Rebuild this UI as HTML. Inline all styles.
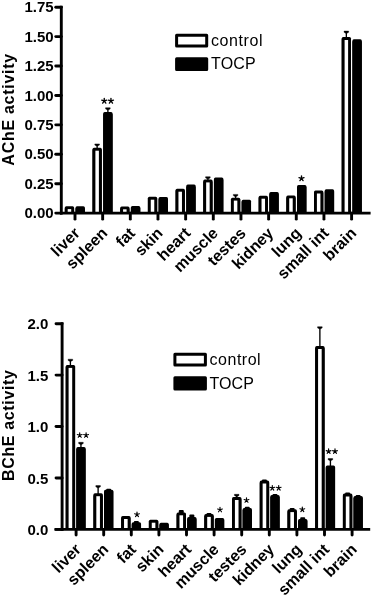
<!DOCTYPE html>
<html><head><meta charset="utf-8"><style>
html,body{margin:0;padding:0;background:#fff;width:373px;height:596px;overflow:hidden}
svg{display:block;will-change:transform}
text{font-family:"Liberation Sans", sans-serif;fill:#000}
</style></head><body>
<svg width="373" height="596" viewBox="0 0 373 596"><rect x="64.80" y="206.20" width="9.30" height="6.90" fill="#000" rx="1.5"/>
<rect x="64.80" y="208.20" width="9.30" height="4.90" fill="#000"/>
<rect x="67.70" y="209.10" width="3.50" height="4.00" fill="#fff"/>
<rect x="75.50" y="206.20" width="9.40" height="6.90" fill="#000" rx="1.5"/>
<rect x="75.50" y="208.20" width="9.40" height="4.90" fill="#000"/>
<rect x="92.49" y="147.80" width="9.30" height="65.30" fill="#000" rx="1.5"/>
<rect x="92.49" y="149.80" width="9.30" height="63.30" fill="#000"/>
<rect x="95.39" y="150.70" width="3.50" height="62.40" fill="#fff"/>
<rect x="103.19" y="112.10" width="9.40" height="101.00" fill="#000" rx="1.5"/>
<rect x="103.19" y="114.10" width="9.40" height="99.00" fill="#000"/>
<rect x="120.18" y="206.40" width="9.30" height="6.70" fill="#000" rx="1.5"/>
<rect x="120.18" y="208.40" width="9.30" height="4.70" fill="#000"/>
<rect x="123.08" y="209.30" width="3.50" height="3.80" fill="#fff"/>
<rect x="130.88" y="206.00" width="9.40" height="7.10" fill="#000" rx="1.5"/>
<rect x="130.88" y="208.00" width="9.40" height="5.10" fill="#000"/>
<rect x="147.87" y="196.80" width="9.30" height="16.30" fill="#000" rx="1.5"/>
<rect x="147.87" y="198.80" width="9.30" height="14.30" fill="#000"/>
<rect x="150.77" y="199.70" width="3.50" height="13.40" fill="#fff"/>
<rect x="158.57" y="197.10" width="9.40" height="16.00" fill="#000" rx="1.5"/>
<rect x="158.57" y="199.10" width="9.40" height="14.00" fill="#000"/>
<rect x="175.56" y="188.80" width="9.30" height="24.30" fill="#000" rx="1.5"/>
<rect x="175.56" y="190.80" width="9.30" height="22.30" fill="#000"/>
<rect x="178.46" y="191.70" width="3.50" height="21.40" fill="#fff"/>
<rect x="186.26" y="184.60" width="9.40" height="28.50" fill="#000" rx="1.5"/>
<rect x="186.26" y="186.60" width="9.40" height="26.50" fill="#000"/>
<rect x="203.25" y="179.50" width="9.30" height="33.60" fill="#000" rx="1.5"/>
<rect x="203.25" y="181.50" width="9.30" height="31.60" fill="#000"/>
<rect x="206.15" y="182.40" width="3.50" height="30.70" fill="#fff"/>
<rect x="213.95" y="177.50" width="9.40" height="35.60" fill="#000" rx="1.5"/>
<rect x="213.95" y="179.50" width="9.40" height="33.60" fill="#000"/>
<rect x="230.94" y="197.70" width="9.30" height="15.40" fill="#000" rx="1.5"/>
<rect x="230.94" y="199.70" width="9.30" height="13.40" fill="#000"/>
<rect x="233.84" y="200.60" width="3.50" height="12.50" fill="#fff"/>
<rect x="241.64" y="199.80" width="9.40" height="13.30" fill="#000" rx="1.5"/>
<rect x="241.64" y="201.80" width="9.40" height="11.30" fill="#000"/>
<rect x="258.63" y="195.80" width="9.30" height="17.30" fill="#000" rx="1.5"/>
<rect x="258.63" y="197.80" width="9.30" height="15.30" fill="#000"/>
<rect x="261.53" y="198.70" width="3.50" height="14.40" fill="#fff"/>
<rect x="269.33" y="192.10" width="9.40" height="21.00" fill="#000" rx="1.5"/>
<rect x="269.33" y="194.10" width="9.40" height="19.00" fill="#000"/>
<rect x="286.32" y="195.40" width="9.30" height="17.70" fill="#000" rx="1.5"/>
<rect x="286.32" y="197.40" width="9.30" height="15.70" fill="#000"/>
<rect x="289.22" y="198.30" width="3.50" height="14.80" fill="#fff"/>
<rect x="297.02" y="185.00" width="9.40" height="28.10" fill="#000" rx="1.5"/>
<rect x="297.02" y="187.00" width="9.40" height="26.10" fill="#000"/>
<rect x="314.01" y="190.60" width="9.30" height="22.50" fill="#000" rx="1.5"/>
<rect x="314.01" y="192.60" width="9.30" height="20.50" fill="#000"/>
<rect x="316.91" y="193.50" width="3.50" height="19.60" fill="#fff"/>
<rect x="324.71" y="189.30" width="9.40" height="23.80" fill="#000" rx="1.5"/>
<rect x="324.71" y="191.30" width="9.40" height="21.80" fill="#000"/>
<rect x="341.70" y="37.10" width="9.30" height="176.00" fill="#000" rx="1.5"/>
<rect x="341.70" y="39.10" width="9.30" height="174.00" fill="#000"/>
<rect x="344.60" y="40.00" width="3.50" height="173.10" fill="#fff"/>
<rect x="352.40" y="39.30" width="9.40" height="173.80" fill="#000" rx="1.5"/>
<rect x="352.40" y="41.30" width="9.40" height="171.80" fill="#000"/>
<line x1="97.14" y1="144.80" x2="97.14" y2="148.80" stroke="#000" stroke-width="1.35" stroke-linecap="butt"/>
<path d="M94.84 143.90H99.44V145.10L97.84 146.00H96.44L94.84 145.10Z" fill="#000" stroke="#000" stroke-width="0.4" stroke-linejoin="round"/>
<line x1="107.89" y1="108.60" x2="107.89" y2="113.10" stroke="#000" stroke-width="1.35" stroke-linecap="butt"/>
<path d="M105.59 107.70H110.19V108.90L108.59 109.80H107.19L105.59 108.90Z" fill="#000" stroke="#000" stroke-width="0.4" stroke-linejoin="round"/>
<line x1="207.90" y1="177.60" x2="207.90" y2="180.50" stroke="#000" stroke-width="1.35" stroke-linecap="butt"/>
<path d="M205.60 176.70H210.20V177.90L208.60 178.80H207.20L205.60 177.90Z" fill="#000" stroke="#000" stroke-width="0.4" stroke-linejoin="round"/>
<line x1="235.59" y1="195.30" x2="235.59" y2="198.70" stroke="#000" stroke-width="1.35" stroke-linecap="butt"/>
<path d="M233.29 194.40H237.89V195.60L236.29 196.50H234.89L233.29 195.60Z" fill="#000" stroke="#000" stroke-width="0.4" stroke-linejoin="round"/>
<line x1="346.35" y1="32.00" x2="346.35" y2="38.10" stroke="#000" stroke-width="1.35" stroke-linecap="butt"/>
<path d="M344.05 31.10H348.65V32.30L347.05 33.20H345.65L344.05 32.30Z" fill="#000" stroke="#000" stroke-width="0.4" stroke-linejoin="round"/>
<line x1="61.30" y1="5.75" x2="61.30" y2="214.55" stroke="#000" stroke-width="2.9" stroke-linecap="butt"/>
<line x1="60.00" y1="213.10" x2="370.60" y2="213.10" stroke="#000" stroke-width="2.9" stroke-linecap="butt"/>
<line x1="55.75" y1="213.10" x2="61.30" y2="213.10" stroke="#000" stroke-width="2.9" stroke-linecap="round"/>
<text x="53.60" y="218.20" font-size="15" font-weight="bold" text-anchor="end">0.00</text>
<line x1="55.75" y1="183.69" x2="61.30" y2="183.69" stroke="#000" stroke-width="2.9" stroke-linecap="round"/>
<text x="53.60" y="188.79" font-size="15" font-weight="bold" text-anchor="end">0.25</text>
<line x1="55.75" y1="154.27" x2="61.30" y2="154.27" stroke="#000" stroke-width="2.9" stroke-linecap="round"/>
<text x="53.60" y="159.37" font-size="15" font-weight="bold" text-anchor="end">0.50</text>
<line x1="55.75" y1="124.86" x2="61.30" y2="124.86" stroke="#000" stroke-width="2.9" stroke-linecap="round"/>
<text x="53.60" y="129.96" font-size="15" font-weight="bold" text-anchor="end">0.75</text>
<line x1="55.75" y1="95.44" x2="61.30" y2="95.44" stroke="#000" stroke-width="2.9" stroke-linecap="round"/>
<text x="53.60" y="100.54" font-size="15" font-weight="bold" text-anchor="end">1.00</text>
<line x1="55.75" y1="66.03" x2="61.30" y2="66.03" stroke="#000" stroke-width="2.9" stroke-linecap="round"/>
<text x="53.60" y="71.13" font-size="15" font-weight="bold" text-anchor="end">1.25</text>
<line x1="55.75" y1="36.61" x2="61.30" y2="36.61" stroke="#000" stroke-width="2.9" stroke-linecap="round"/>
<text x="53.60" y="41.71" font-size="15" font-weight="bold" text-anchor="end">1.50</text>
<line x1="55.75" y1="7.20" x2="61.30" y2="7.20" stroke="#000" stroke-width="2.9" stroke-linecap="round"/>
<text x="53.60" y="12.30" font-size="15" font-weight="bold" text-anchor="end">1.75</text>
<line x1="75.00" y1="213.10" x2="75.00" y2="219.15" stroke="#000" stroke-width="2.9" stroke-linecap="round"/>
<line x1="102.66" y1="213.10" x2="102.66" y2="219.15" stroke="#000" stroke-width="2.9" stroke-linecap="round"/>
<line x1="130.32" y1="213.10" x2="130.32" y2="219.15" stroke="#000" stroke-width="2.9" stroke-linecap="round"/>
<line x1="157.98" y1="213.10" x2="157.98" y2="219.15" stroke="#000" stroke-width="2.9" stroke-linecap="round"/>
<line x1="185.64" y1="213.10" x2="185.64" y2="219.15" stroke="#000" stroke-width="2.9" stroke-linecap="round"/>
<line x1="213.30" y1="213.10" x2="213.30" y2="219.15" stroke="#000" stroke-width="2.9" stroke-linecap="round"/>
<line x1="240.96" y1="213.10" x2="240.96" y2="219.15" stroke="#000" stroke-width="2.9" stroke-linecap="round"/>
<line x1="268.62" y1="213.10" x2="268.62" y2="219.15" stroke="#000" stroke-width="2.9" stroke-linecap="round"/>
<line x1="296.28" y1="213.10" x2="296.28" y2="219.15" stroke="#000" stroke-width="2.9" stroke-linecap="round"/>
<line x1="323.94" y1="213.10" x2="323.94" y2="219.15" stroke="#000" stroke-width="2.9" stroke-linecap="round"/>
<line x1="351.60" y1="213.10" x2="351.60" y2="219.15" stroke="#000" stroke-width="2.9" stroke-linecap="round"/>
<path d="M104.25 100.95L104.25 98.30M104.25 100.95L106.77 100.13M104.25 100.95L105.81 103.09M104.25 100.95L102.69 103.09M104.25 100.95L101.73 100.13" stroke="#000" stroke-width="1.35" stroke-linecap="round" fill="none"/>
<circle cx="104.25" cy="100.95" r="0.74" fill="#000"/>
<path d="M110.95 100.95L110.95 98.30M110.95 100.95L113.47 100.13M110.95 100.95L112.51 103.09M110.95 100.95L109.39 103.09M110.95 100.95L108.43 100.13" stroke="#000" stroke-width="1.35" stroke-linecap="round" fill="none"/>
<circle cx="110.95" cy="100.95" r="0.74" fill="#000"/>
<path d="M301.50 178.45L301.50 175.80M301.50 178.45L304.02 177.63M301.50 178.45L303.06 180.59M301.50 178.45L299.94 180.59M301.50 178.45L298.98 177.63" stroke="#000" stroke-width="1.35" stroke-linecap="round" fill="none"/>
<circle cx="301.50" cy="178.45" r="0.74" fill="#000"/>
<text x="80.80" y="234.10" font-size="16" font-weight="bold" text-anchor="end" transform="rotate(-45 80.80 234.10)">liver</text>
<text x="108.46" y="234.10" font-size="16" font-weight="bold" text-anchor="end" transform="rotate(-45 108.46 234.10)">spleen</text>
<text x="136.12" y="234.10" font-size="16" font-weight="bold" text-anchor="end" transform="rotate(-45 136.12 234.10)">fat</text>
<text x="163.78" y="234.10" font-size="16" font-weight="bold" text-anchor="end" transform="rotate(-45 163.78 234.10)">skin</text>
<text x="191.44" y="234.10" font-size="16" font-weight="bold" text-anchor="end" transform="rotate(-45 191.44 234.10)">heart</text>
<text x="219.10" y="234.10" font-size="16" font-weight="bold" text-anchor="end" transform="rotate(-45 219.10 234.10)">muscle</text>
<text x="246.76" y="234.10" font-size="16" font-weight="bold" text-anchor="end" transform="rotate(-45 246.76 234.10)">testes</text>
<text x="274.42" y="234.10" font-size="16" font-weight="bold" text-anchor="end" transform="rotate(-45 274.42 234.10)">kidney</text>
<text x="302.08" y="234.10" font-size="16" font-weight="bold" text-anchor="end" transform="rotate(-45 302.08 234.10)">lung</text>
<text x="329.74" y="234.10" font-size="16" font-weight="bold" text-anchor="end" transform="rotate(-45 329.74 234.10)">small int</text>
<text x="357.40" y="234.10" font-size="16" font-weight="bold" text-anchor="end" transform="rotate(-45 357.40 234.10)">brain</text>
<text x="13.90" y="109.75" font-size="16" font-weight="bold" text-anchor="middle" transform="rotate(-90 13.90 109.75)" textLength="111.8" lengthAdjust="spacing">AChE activity</text>
<rect x="176.60" y="35.20" width="30.10" height="10.70" fill="#fff" stroke="#000" stroke-width="3.0" stroke-linejoin="round"/>
<rect x="176.60" y="58.70" width="30.10" height="10.70" fill="#000" stroke="#000" stroke-width="3.0" stroke-linejoin="round"/>
<text x="211.00" y="45.90" font-size="16" font-weight="normal" text-anchor="start" textLength="51.6" lengthAdjust="spacing">control</text>
<text x="211.00" y="69.40" font-size="16" font-weight="normal" text-anchor="start" textLength="44.6" lengthAdjust="spacing">TOCP</text>
<rect x="65.70" y="365.00" width="9.40" height="164.40" fill="#000" rx="1.5"/>
<rect x="65.70" y="367.00" width="9.40" height="162.40" fill="#000"/>
<rect x="68.60" y="367.90" width="3.60" height="161.50" fill="#fff"/>
<rect x="76.30" y="447.00" width="9.30" height="82.40" fill="#000" rx="1.5"/>
<rect x="76.30" y="449.00" width="9.30" height="80.40" fill="#000"/>
<rect x="93.42" y="493.30" width="9.40" height="36.10" fill="#000" rx="1.5"/>
<rect x="93.42" y="495.30" width="9.40" height="34.10" fill="#000"/>
<rect x="96.32" y="496.20" width="3.60" height="33.20" fill="#fff"/>
<rect x="104.02" y="489.80" width="9.30" height="39.60" fill="#000" rx="1.5"/>
<rect x="104.02" y="491.80" width="9.30" height="37.60" fill="#000"/>
<rect x="121.14" y="516.10" width="9.40" height="13.30" fill="#000" rx="1.5"/>
<rect x="121.14" y="518.10" width="9.40" height="11.30" fill="#000"/>
<rect x="124.04" y="519.00" width="3.60" height="10.40" fill="#fff"/>
<rect x="131.74" y="522.30" width="9.30" height="7.10" fill="#000" rx="1.5"/>
<rect x="131.74" y="524.30" width="9.30" height="5.10" fill="#000"/>
<rect x="148.86" y="519.80" width="9.40" height="9.60" fill="#000" rx="1.5"/>
<rect x="148.86" y="521.80" width="9.40" height="7.60" fill="#000"/>
<rect x="151.76" y="522.70" width="3.60" height="6.70" fill="#fff"/>
<rect x="159.46" y="522.80" width="9.30" height="6.60" fill="#000" rx="1.5"/>
<rect x="159.46" y="524.80" width="9.30" height="4.60" fill="#000"/>
<rect x="176.58" y="512.40" width="9.40" height="17.00" fill="#000" rx="1.5"/>
<rect x="176.58" y="514.40" width="9.40" height="15.00" fill="#000"/>
<rect x="179.48" y="515.30" width="3.60" height="14.10" fill="#fff"/>
<rect x="187.18" y="517.10" width="9.30" height="12.30" fill="#000" rx="1.5"/>
<rect x="187.18" y="519.10" width="9.30" height="10.30" fill="#000"/>
<rect x="204.30" y="514.00" width="9.40" height="15.40" fill="#000" rx="1.5"/>
<rect x="204.30" y="516.00" width="9.40" height="13.40" fill="#000"/>
<rect x="207.20" y="516.90" width="3.60" height="12.50" fill="#fff"/>
<rect x="214.90" y="518.10" width="9.30" height="11.30" fill="#000" rx="1.5"/>
<rect x="214.90" y="520.10" width="9.30" height="9.30" fill="#000"/>
<rect x="232.02" y="497.10" width="9.40" height="32.30" fill="#000" rx="1.5"/>
<rect x="232.02" y="499.10" width="9.40" height="30.30" fill="#000"/>
<rect x="234.92" y="500.00" width="3.60" height="29.40" fill="#fff"/>
<rect x="242.62" y="508.00" width="9.30" height="21.40" fill="#000" rx="1.5"/>
<rect x="242.62" y="510.00" width="9.30" height="19.40" fill="#000"/>
<rect x="259.74" y="480.60" width="9.40" height="48.80" fill="#000" rx="1.5"/>
<rect x="259.74" y="482.60" width="9.40" height="46.80" fill="#000"/>
<rect x="262.64" y="483.50" width="3.60" height="45.90" fill="#fff"/>
<rect x="270.34" y="495.00" width="9.30" height="34.40" fill="#000" rx="1.5"/>
<rect x="270.34" y="497.00" width="9.30" height="32.40" fill="#000"/>
<rect x="287.46" y="509.20" width="9.40" height="20.20" fill="#000" rx="1.5"/>
<rect x="287.46" y="511.20" width="9.40" height="18.20" fill="#000"/>
<rect x="290.36" y="512.10" width="3.60" height="17.30" fill="#fff"/>
<rect x="298.06" y="518.90" width="9.30" height="10.50" fill="#000" rx="1.5"/>
<rect x="298.06" y="520.90" width="9.30" height="8.50" fill="#000"/>
<rect x="315.18" y="346.10" width="9.40" height="183.30" fill="#000" rx="1.5"/>
<rect x="315.18" y="348.10" width="9.40" height="181.30" fill="#000"/>
<rect x="318.08" y="349.00" width="3.60" height="180.40" fill="#fff"/>
<rect x="325.78" y="465.40" width="9.30" height="64.00" fill="#000" rx="1.5"/>
<rect x="325.78" y="467.40" width="9.30" height="62.00" fill="#000"/>
<rect x="342.90" y="493.60" width="9.40" height="35.80" fill="#000" rx="1.5"/>
<rect x="342.90" y="495.60" width="9.40" height="33.80" fill="#000"/>
<rect x="345.80" y="496.50" width="3.60" height="32.90" fill="#fff"/>
<rect x="353.50" y="496.00" width="9.30" height="33.40" fill="#000" rx="1.5"/>
<rect x="353.50" y="498.00" width="9.30" height="31.40" fill="#000"/>
<line x1="70.40" y1="360.10" x2="70.40" y2="366.00" stroke="#000" stroke-width="1.35" stroke-linecap="butt"/>
<path d="M68.10 359.20H72.70V360.40L71.10 361.30H69.70L68.10 360.40Z" fill="#000" stroke="#000" stroke-width="0.4" stroke-linejoin="round"/>
<line x1="80.95" y1="443.20" x2="80.95" y2="448.00" stroke="#000" stroke-width="1.35" stroke-linecap="butt"/>
<path d="M78.65 442.30H83.25V443.50L81.65 444.40H80.25L78.65 443.50Z" fill="#000" stroke="#000" stroke-width="0.4" stroke-linejoin="round"/>
<line x1="98.12" y1="486.50" x2="98.12" y2="494.30" stroke="#000" stroke-width="1.35" stroke-linecap="butt"/>
<path d="M95.82 485.60H100.42V486.80L98.82 487.70H97.42L95.82 486.80Z" fill="#000" stroke="#000" stroke-width="0.4" stroke-linejoin="round"/>
<line x1="108.67" y1="489.80" x2="108.67" y2="490.80" stroke="#000" stroke-width="1.35" stroke-linecap="butt"/>
<rect x="106.17" y="488.80" width="5.00" height="2.00" fill="#000" rx="1.0"/>
<line x1="136.39" y1="521.90" x2="136.39" y2="523.30" stroke="#000" stroke-width="1.35" stroke-linecap="butt"/>
<rect x="133.89" y="520.90" width="5.00" height="2.40" fill="#000" rx="1.0"/>
<line x1="181.28" y1="511.00" x2="181.28" y2="513.40" stroke="#000" stroke-width="1.35" stroke-linecap="butt"/>
<rect x="178.78" y="510.00" width="5.00" height="3.40" fill="#000" rx="1.0"/>
<line x1="191.83" y1="515.40" x2="191.83" y2="518.10" stroke="#000" stroke-width="1.35" stroke-linecap="butt"/>
<rect x="189.33" y="514.40" width="5.00" height="3.70" fill="#000" rx="1.0"/>
<line x1="209.00" y1="514.00" x2="209.00" y2="515.00" stroke="#000" stroke-width="1.35" stroke-linecap="butt"/>
<rect x="206.50" y="513.00" width="5.00" height="2.00" fill="#000" rx="1.0"/>
<line x1="236.72" y1="495.20" x2="236.72" y2="498.10" stroke="#000" stroke-width="1.35" stroke-linecap="butt"/>
<path d="M234.42 494.30H239.02V495.50L237.42 496.40H236.02L234.42 495.50Z" fill="#000" stroke="#000" stroke-width="0.4" stroke-linejoin="round"/>
<line x1="247.27" y1="507.80" x2="247.27" y2="509.00" stroke="#000" stroke-width="1.35" stroke-linecap="butt"/>
<rect x="244.77" y="506.80" width="5.00" height="2.20" fill="#000" rx="1.0"/>
<line x1="264.44" y1="480.60" x2="264.44" y2="481.60" stroke="#000" stroke-width="1.35" stroke-linecap="butt"/>
<rect x="261.94" y="479.60" width="5.00" height="2.00" fill="#000" rx="1.0"/>
<line x1="274.99" y1="495.00" x2="274.99" y2="496.00" stroke="#000" stroke-width="1.35" stroke-linecap="butt"/>
<rect x="272.49" y="494.00" width="5.00" height="2.00" fill="#000" rx="1.0"/>
<line x1="292.16" y1="509.00" x2="292.16" y2="510.20" stroke="#000" stroke-width="1.35" stroke-linecap="butt"/>
<rect x="289.66" y="508.00" width="5.00" height="2.20" fill="#000" rx="1.0"/>
<line x1="302.71" y1="518.30" x2="302.71" y2="519.90" stroke="#000" stroke-width="1.35" stroke-linecap="butt"/>
<rect x="300.21" y="517.30" width="5.00" height="2.60" fill="#000" rx="1.0"/>
<line x1="319.88" y1="327.60" x2="319.88" y2="347.10" stroke="#000" stroke-width="1.35" stroke-linecap="butt"/>
<path d="M317.58 326.70H322.18V327.90L320.58 328.80H319.18L317.58 327.90Z" fill="#000" stroke="#000" stroke-width="0.4" stroke-linejoin="round"/>
<line x1="330.43" y1="459.40" x2="330.43" y2="466.40" stroke="#000" stroke-width="1.35" stroke-linecap="butt"/>
<path d="M328.13 458.50H332.73V459.70L331.13 460.60H329.73L328.13 459.70Z" fill="#000" stroke="#000" stroke-width="0.4" stroke-linejoin="round"/>
<line x1="347.60" y1="493.60" x2="347.60" y2="494.60" stroke="#000" stroke-width="1.35" stroke-linecap="butt"/>
<rect x="345.10" y="492.60" width="5.00" height="2.00" fill="#000" rx="1.0"/>
<line x1="358.15" y1="495.90" x2="358.15" y2="497.00" stroke="#000" stroke-width="1.35" stroke-linecap="butt"/>
<rect x="355.65" y="494.90" width="5.00" height="2.10" fill="#000" rx="1.0"/>
<line x1="62.10" y1="322.25" x2="62.10" y2="530.85" stroke="#000" stroke-width="2.9" stroke-linecap="butt"/>
<line x1="54.50" y1="529.40" x2="370.20" y2="529.40" stroke="#000" stroke-width="2.9" stroke-linecap="butt"/>
<line x1="56.05" y1="529.40" x2="62.10" y2="529.40" stroke="#000" stroke-width="2.9" stroke-linecap="round"/>
<text x="48.30" y="535.00" font-size="15" font-weight="bold" text-anchor="end">0.0</text>
<line x1="56.05" y1="477.97" x2="62.10" y2="477.97" stroke="#000" stroke-width="2.9" stroke-linecap="round"/>
<text x="48.30" y="483.57" font-size="15" font-weight="bold" text-anchor="end">0.5</text>
<line x1="56.05" y1="426.55" x2="62.10" y2="426.55" stroke="#000" stroke-width="2.9" stroke-linecap="round"/>
<text x="48.30" y="432.15" font-size="15" font-weight="bold" text-anchor="end">1.0</text>
<line x1="56.05" y1="375.12" x2="62.10" y2="375.12" stroke="#000" stroke-width="2.9" stroke-linecap="round"/>
<text x="48.30" y="380.73" font-size="15" font-weight="bold" text-anchor="end">1.5</text>
<line x1="56.05" y1="323.70" x2="62.10" y2="323.70" stroke="#000" stroke-width="2.9" stroke-linecap="round"/>
<text x="48.30" y="329.30" font-size="15" font-weight="bold" text-anchor="end">2.0</text>
<line x1="76.10" y1="529.40" x2="76.10" y2="534.95" stroke="#000" stroke-width="2.9" stroke-linecap="round"/>
<line x1="103.70" y1="529.40" x2="103.70" y2="534.95" stroke="#000" stroke-width="2.9" stroke-linecap="round"/>
<line x1="131.30" y1="529.40" x2="131.30" y2="534.95" stroke="#000" stroke-width="2.9" stroke-linecap="round"/>
<line x1="158.90" y1="529.40" x2="158.90" y2="534.95" stroke="#000" stroke-width="2.9" stroke-linecap="round"/>
<line x1="186.50" y1="529.40" x2="186.50" y2="534.95" stroke="#000" stroke-width="2.9" stroke-linecap="round"/>
<line x1="214.10" y1="529.40" x2="214.10" y2="534.95" stroke="#000" stroke-width="2.9" stroke-linecap="round"/>
<line x1="241.70" y1="529.40" x2="241.70" y2="534.95" stroke="#000" stroke-width="2.9" stroke-linecap="round"/>
<line x1="269.30" y1="529.40" x2="269.30" y2="534.95" stroke="#000" stroke-width="2.9" stroke-linecap="round"/>
<line x1="296.90" y1="529.40" x2="296.90" y2="534.95" stroke="#000" stroke-width="2.9" stroke-linecap="round"/>
<line x1="324.50" y1="529.40" x2="324.50" y2="534.95" stroke="#000" stroke-width="2.9" stroke-linecap="round"/>
<line x1="352.10" y1="529.40" x2="352.10" y2="534.95" stroke="#000" stroke-width="2.9" stroke-linecap="round"/>
<path d="M79.70 435.25L79.70 432.75M79.70 435.25L82.08 434.48M79.70 435.25L81.17 437.27M79.70 435.25L78.23 437.27M79.70 435.25L77.32 434.48" stroke="#000" stroke-width="1.15" stroke-linecap="round" fill="none"/>
<circle cx="79.70" cy="435.25" r="0.63" fill="#000"/>
<path d="M86.10 435.25L86.10 432.75M86.10 435.25L88.48 434.48M86.10 435.25L87.57 437.27M86.10 435.25L84.63 437.27M86.10 435.25L83.72 434.48" stroke="#000" stroke-width="1.15" stroke-linecap="round" fill="none"/>
<circle cx="86.10" cy="435.25" r="0.63" fill="#000"/>
<path d="M137.00 514.55L137.00 512.05M137.00 514.55L139.38 513.78M137.00 514.55L138.47 516.57M137.00 514.55L135.53 516.57M137.00 514.55L134.62 513.78" stroke="#000" stroke-width="1.15" stroke-linecap="round" fill="none"/>
<circle cx="137.00" cy="514.55" r="0.63" fill="#000"/>
<path d="M220.00 509.75L220.00 507.25M220.00 509.75L222.38 508.98M220.00 509.75L221.47 511.77M220.00 509.75L218.53 511.77M220.00 509.75L217.62 508.98" stroke="#000" stroke-width="1.15" stroke-linecap="round" fill="none"/>
<circle cx="220.00" cy="509.75" r="0.63" fill="#000"/>
<path d="M246.50 500.25L246.50 497.75M246.50 500.25L248.88 499.48M246.50 500.25L247.97 502.27M246.50 500.25L245.03 502.27M246.50 500.25L244.12 499.48" stroke="#000" stroke-width="1.15" stroke-linecap="round" fill="none"/>
<circle cx="246.50" cy="500.25" r="0.63" fill="#000"/>
<path d="M272.30 488.05L272.30 485.55M272.30 488.05L274.68 487.28M272.30 488.05L273.77 490.07M272.30 488.05L270.83 490.07M272.30 488.05L269.92 487.28" stroke="#000" stroke-width="1.15" stroke-linecap="round" fill="none"/>
<circle cx="272.30" cy="488.05" r="0.63" fill="#000"/>
<path d="M278.70 488.05L278.70 485.55M278.70 488.05L281.08 487.28M278.70 488.05L280.17 490.07M278.70 488.05L277.23 490.07M278.70 488.05L276.32 487.28" stroke="#000" stroke-width="1.15" stroke-linecap="round" fill="none"/>
<circle cx="278.70" cy="488.05" r="0.63" fill="#000"/>
<path d="M302.30 509.55L302.30 507.05M302.30 509.55L304.68 508.78M302.30 509.55L303.77 511.57M302.30 509.55L300.83 511.57M302.30 509.55L299.92 508.78" stroke="#000" stroke-width="1.15" stroke-linecap="round" fill="none"/>
<circle cx="302.30" cy="509.55" r="0.63" fill="#000"/>
<path d="M328.60 451.35L328.60 448.85M328.60 451.35L330.98 450.58M328.60 451.35L330.07 453.37M328.60 451.35L327.13 453.37M328.60 451.35L326.22 450.58" stroke="#000" stroke-width="1.15" stroke-linecap="round" fill="none"/>
<circle cx="328.60" cy="451.35" r="0.63" fill="#000"/>
<path d="M335.00 451.35L335.00 448.85M335.00 451.35L337.38 450.58M335.00 451.35L336.47 453.37M335.00 451.35L333.53 453.37M335.00 451.35L332.62 450.58" stroke="#000" stroke-width="1.15" stroke-linecap="round" fill="none"/>
<circle cx="335.00" cy="451.35" r="0.63" fill="#000"/>
<text x="81.90" y="550.40" font-size="16" font-weight="bold" text-anchor="end" transform="rotate(-45 81.90 550.40)">liver</text>
<text x="109.50" y="550.40" font-size="16" font-weight="bold" text-anchor="end" transform="rotate(-45 109.50 550.40)">spleen</text>
<text x="137.10" y="550.40" font-size="16" font-weight="bold" text-anchor="end" transform="rotate(-45 137.10 550.40)">fat</text>
<text x="164.70" y="550.40" font-size="16" font-weight="bold" text-anchor="end" transform="rotate(-45 164.70 550.40)">skin</text>
<text x="192.30" y="550.40" font-size="16" font-weight="bold" text-anchor="end" transform="rotate(-45 192.30 550.40)">heart</text>
<text x="219.90" y="550.40" font-size="16" font-weight="bold" text-anchor="end" transform="rotate(-45 219.90 550.40)">muscle</text>
<text x="247.50" y="550.40" font-size="16" font-weight="bold" text-anchor="end" transform="rotate(-45 247.50 550.40)">testes</text>
<text x="275.10" y="550.40" font-size="16" font-weight="bold" text-anchor="end" transform="rotate(-45 275.10 550.40)">kidney</text>
<text x="302.70" y="550.40" font-size="16" font-weight="bold" text-anchor="end" transform="rotate(-45 302.70 550.40)">lung</text>
<text x="330.30" y="550.40" font-size="16" font-weight="bold" text-anchor="end" transform="rotate(-45 330.30 550.40)">small int</text>
<text x="357.90" y="550.40" font-size="16" font-weight="bold" text-anchor="end" transform="rotate(-45 357.90 550.40)">brain</text>
<text x="13.90" y="425.55" font-size="16" font-weight="bold" text-anchor="middle" transform="rotate(-90 13.90 425.55)" textLength="110.9" lengthAdjust="spacing">BChE activity</text>
<rect x="174.90" y="354.20" width="30.50" height="10.80" fill="#fff" stroke="#000" stroke-width="3.0" stroke-linejoin="round"/>
<rect x="174.90" y="377.70" width="30.50" height="11.40" fill="#000" stroke="#000" stroke-width="3.0" stroke-linejoin="round"/>
<text x="209.60" y="365.30" font-size="16" font-weight="normal" text-anchor="start" textLength="51.0" lengthAdjust="spacing">control</text>
<text x="209.60" y="389.00" font-size="16" font-weight="normal" text-anchor="start" textLength="44.2" lengthAdjust="spacing">TOCP</text></svg>
</body></html>
